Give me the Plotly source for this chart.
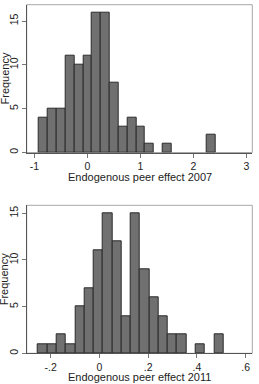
import plotly.graph_objects as go

# ---- data ----
bin_start_2007 = -0.91
bin_width_2007 = 0.1665
counts_2007 = [4, 5, 5, 11, 10, 11, 16, 16, 8, 3, 4, 3, 1, 0, 1, 0, 0, 0, 0, 2]

bin_start_2011 = -0.251
bin_width_2011 = 0.038
counts_2011 = [1, 1, 2, 1, 5, 7, 11, 15, 12, 4, 15, 9, 6, 4, 2, 2, 0, 1, 0, 2]

xticks_2007 = [-1, 0, 1, 2, 3]
xticklabels_2007 = ["-1", "0", "1", "2", "3"]
xticks_2011 = [-0.2, 0, 0.2, 0.4, 0.6]
xticklabels_2011 = ["-.2", "0", ".2", ".4", ".6"]
yticks = [0, 5, 10, 15]
yticklabels = ["0", "5", "10", "15"]

xtitle_2007 = "Endogenous peer effect 2007"
xtitle_2011 = "Endogenous peer effect 2011"
ytitle = "Frequency"

# ---- figure ----
W, H = 259, 384
FONT = "Liberation Sans, Arial, sans-serif"
TXT = "#222222"
BAR_FILL = "#707070"
BAR_LINE = "#2b2b2b"


def centers(start, width, n):
    return [start + width * (i + 0.5) for i in range(n)]


def nz(vals):
    return [v if v else None for v in vals]


fig = go.Figure()
fig.add_trace(go.Bar(
    x=centers(bin_start_2007, bin_width_2007, len(counts_2007)),
    y=nz(counts_2007), width=bin_width_2007,
    marker=dict(color=BAR_FILL, line=dict(color=BAR_LINE, width=1)),
    xaxis="x", yaxis="y", showlegend=False, hoverinfo="skip"))
fig.add_trace(go.Bar(
    x=centers(bin_start_2011, bin_width_2011, len(counts_2011)),
    y=nz(counts_2011), width=bin_width_2011,
    marker=dict(color=BAR_FILL, line=dict(color=BAR_LINE, width=1)),
    xaxis="x2", yaxis="y2", showlegend=False, hoverinfo="skip"))

xdom = [26.7 / W, 252.3 / W]
ydom_top = [(H - 152.5) / H, (H - 4.7) / H]
ydom_bot = [(H - 353.3) / H, (H - 205.3) / H]

tickfont = dict(family=FONT, size=10.5, color=TXT)
common_x = dict(showgrid=False, zeroline=False, showline=True, linecolor="#555555",
                linewidth=1, ticks="outside", ticklen=4, tickcolor="#777777",
                tickfont=tickfont)
common_y = dict(showgrid=False, zeroline=False, showline=True, linecolor="#555555",
                linewidth=1, ticks="outside", ticklen=4, tickcolor="#777777",
                tickfont=tickfont, tickangle=-90, tickvals=yticks, ticktext=yticklabels)

fig.update_layout(
    width=W, height=H,
    margin=dict(l=0, r=0, t=0, b=0),
    paper_bgcolor="white", plot_bgcolor="white",
    bargap=0,
    xaxis=dict(domain=xdom, anchor="y", range=[-1.144, 3.11],
               tickvals=xticks_2007, ticktext=xticklabels_2007, **common_x),
    yaxis=dict(domain=ydom_top, anchor="x", range=[0, 16.87], **common_y),
    xaxis2=dict(domain=xdom, anchor="y2", range=[-0.298, 0.627],
                tickvals=xticks_2011, ticktext=xticklabels_2011, **common_x),
    yaxis2=dict(domain=ydom_bot, anchor="x2", range=[0, 15.86], **common_y),
)

# plot-region frames
for xr, yr in (("x domain", "y domain"), ("x2 domain", "y2 domain")):
    fig.add_shape(type="rect", xref=xr, yref=yr, x0=0, x1=1, y0=0, y1=1,
                  line=dict(color="#a8a8a8", width=1), layer="below")

titlefont = dict(family=FONT, size=11, color=TXT)
ann = [
    dict(text=xtitle_2007, x=(xdom[0] + xdom[1]) / 2, y=(H - 177) / H),
    dict(text=xtitle_2011, x=(xdom[0] + xdom[1]) / 2, y=(H - 377) / H),
    dict(text=ytitle, x=4 / W, y=(H - 78.5) / H, textangle=-90),
    dict(text=ytitle, x=4 / W, y=(H - 279.3) / H, textangle=-90),
]
for a in ann:
    fig.add_annotation(xref="paper", yref="paper", showarrow=False,
                       xanchor="center", yanchor="middle", font=titlefont, **a)

fig.write_html("out.html")
